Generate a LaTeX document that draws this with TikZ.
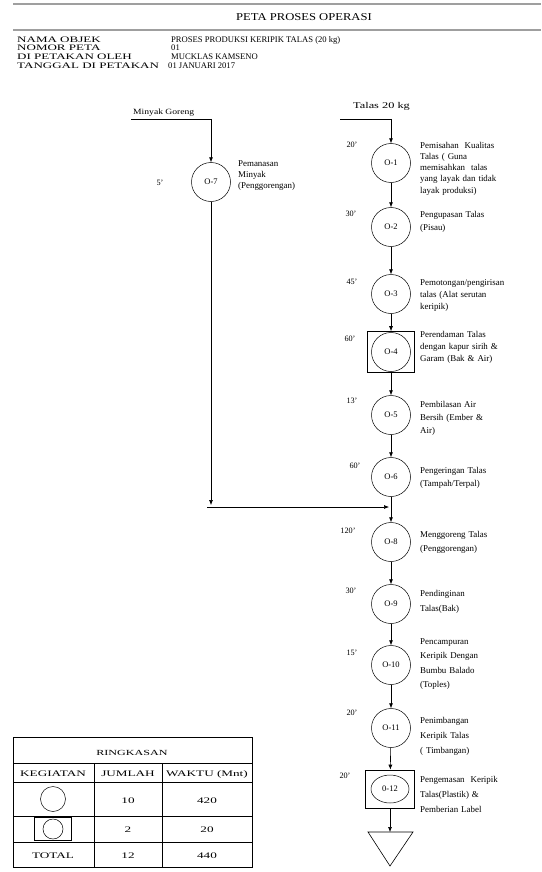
\documentclass[tikz,border=0pt]{standalone}
\usepackage{fontspec}
\setmainfont{Liberation Serif}
\newfontfamily\widefont[FakeStretch=1.55]{Liberation Serif}
\newfontfamily\talfont[FakeStretch=1.4]{Liberation Serif}
\newfontfamily\midfont[FakeStretch=1.2]{Liberation Serif}
\usetikzlibrary{arrows.meta,shapes.geometric}
\begin{document}
\begin{tikzpicture}[x=1pt,y=-1pt,
 opc/.style={circle,draw,minimum size=39pt,inner sep=0pt,line width=0.5pt,font=\fontsize{8.5}{9}\selectfont},
 inspbox/.style={rectangle,draw,minimum width=47pt,minimum height=41pt,inner sep=0pt,line width=0.6pt},
 lbl/.style={anchor=base west,text width=118pt,align=left,inner sep=0pt,font=\fontsize{8.9}{#1}\selectfont},
 lbl/.default=12,
 tm/.style={anchor=base,inner sep=0pt,font=\fontsize{8.2}{9}\selectfont},
 infok/.style={anchor=base west,inner sep=0pt,font=\widefont\fontsize{8.4}{9}\selectfont},
 infov/.style={anchor=base west,inner sep=0pt,font=\fontsize{8.6}{9}\selectfont},
 arr/.style={-{Latex[length=5pt,width=4pt]},line width=0.6pt},
 ln/.style={line width=0.6pt},
 tab/.style={anchor=base,inner sep=0pt,font=\widefont\fontsize{8.5}{10}\selectfont},
 hdr/.style={draw=gray!75,line width=1.6pt}
]
\useasboundingbox[fill=white] (0,0) rectangle (541,872);

% header
\draw[hdr] (13,4) -- (541,4);
\draw[hdr] (13,30) -- (541,30);
\node[anchor=base,inner sep=0pt,font=\midfont\fontsize{10.5}{12}\selectfont] (title) at (304,21) {PETA PROSES OPERASI};

\node[infok] (k1) at (17,43) {NAMA OBJEK};
\node[infov] (v1) at (171,43) {PROSES PRODUKSI KERIPIK TALAS (20 kg)};
\node[infok] (k2) at (17,51) {NOMOR PETA};
\node[infov] (v2) at (171,51) {01};
\node[infok] (k3) at (17,60) {DI PETAKAN OLEH};
\node[infov] (v3) at (171,60) {MUCKLAS KAMSENO};
\node[infok] (k4) at (17,69) {TANGGAL DI PETAKAN};
\node[infov] (v4) at (168,69) {01 JANUARI 2017};

% inputs
\node[anchor=base west,inner sep=0pt,font=\midfont\fontsize{8}{9}\selectfont] (minyak) at (133,115) {Minyak Goreng};
\node[anchor=base west,inner sep=0pt,font=\talfont\fontsize{8.8}{9}\selectfont] (talas) at (353,109) {Talas 20 kg};
\coordinate (m0) at (131,119);
\coordinate (m1) at (211,119);
\coordinate (t0) at (340,119);
\coordinate (t1) at (391,119);

% operations
\node[opc] (O7) at (211,182) {O-7};
\node[opc] (O1) at (391,163) {O-1};
\node[opc] (O2) at (391,227) {O-2};
\node[opc] (O3) at (391,294) {O-3};
\node[inspbox] (B4) at (391,352) {};
\node[opc] (O4) at (391,352) {O-4};
\node[opc] (O5) at (391,415) {O-5};
\node[opc] (O6) at (391,477) {O-6};
\node[opc] (O8) at (391,542) {O-8};
\node[opc] (O9) at (391,604) {O-9};
\node[opc] (O10) at (391,665) {O-10};
\node[opc] (O11) at (391,728) {O-11};
\node[inspbox,minimum width=49pt,minimum height=38pt] (B12) at (390,789) {};
\node[ellipse,draw,minimum width=38pt,minimum height=28pt,inner sep=0pt,line width=0.5pt,font=\fontsize{8.5}{9}\selectfont] (O12) at (390,789) {0-12};
\coordinate (T) at (390,832);
\draw[ln] (368,832) -- (413,832) -- (390,866) -- cycle;

% times
\node[tm] (t1l) at (352,147) {20'};
\node[tm] (t2l) at (351,216) {30'};
\node[tm] (t3l) at (352,284) {45'};
\node[tm] (t4l) at (350,341) {60'};
\node[tm] (t5l) at (352,403) {13'};
\node[tm] (t6l) at (355,468) {60'};
\node[tm] (t8l) at (348,533) {120'};
\node[tm] (t9l) at (351,593) {30'};
\node[tm] (t10l) at (352,655) {15'};
\node[tm] (t11l) at (352,715) {20'};
\node[tm] (t12l) at (345,778) {20'};
\node[tm] (t7l) at (160,185) {5'};

% labels
\node[lbl=11.3] (l7) at (238,166) {Pemanasan\\Minyak\\(Penggorengan)};
\node[lbl=11.3] (l1) at (420,148) {Pemisahan \ Kualitas\\Talas ( Guna\\memisahkan \ talas\\yang layak dan tidak\\layak produksi)};
\node[lbl=13] (l2) at (420,217) {Pengupasan Talas\\(Pisau)};
\node[lbl=12] (l3) at (420,285) {Pemotongan/pengirisan\\talas (Alat serutan\\keripik)};
\node[lbl=12] (l4) at (420,337) {Perendaman Talas\\dengan kapur sirih \&\\Garam (Bak \& Air)};
\node[lbl=13] (l5) at (420,407) {Pembilasan Air\\Bersih (Ember \&\\Air)};
\node[lbl=13] (l6) at (420,473) {Pengeringan Talas\\(Tampah/Terpal)};
\node[lbl=14] (l8) at (420,537) {Menggoreng Talas\\(Penggorengan)};
\node[lbl=15] (l9) at (420,596) {Pendinginan\\Talas(Bak)};
\node[lbl=14.5] (l10) at (420,644) {Pencampuran\\Keripik Dengan\\Bumbu Balado\\(Toples)};
\node[lbl=15] (l11) at (420,723) {Penimbangan\\Keripik Talas\\( Timbangan)};
\node[lbl=15] (l12) at (420,782) {Pengemasan \ Keripik\\Talas(Plastik) \&\\Pemberian Label};

% connectors
\draw[ln] (m0) -- (m1);
\draw[arr] (m1) -- (O7);
\draw[ln] (t0) -- (t1);
\draw[arr] (t1) -- (O1);
\draw[arr] (O1) -- (O2);
\draw[arr] (O2) -- (O3);
\draw[arr] (O3) -- (B4);
\draw[arr] (B4) -- (O5);
\draw[arr] (O5) -- (O6);
\draw[arr] (O6) -- (O8);
\draw[arr] (O8) -- (O9);
\draw[arr] (O9) -- (O10);
\draw[arr] (O10) -- (O11);
\draw[arr] (O11) -- (B12);
\draw[arr] (B12) -- (T);
\coordinate (c7) at (211,505);
\coordinate (c7w) at (207,507);
\coordinate (c8) at (390,507);
\draw[arr] (O7) -- (c7);
\draw[arr,shorten >=1pt] (c7w) -- (c8);

% summary table
\draw[ln] (13,737) rectangle (252,867);
\draw[ln] (13,763) -- (252,763);
\draw[ln] (13,782) -- (252,782);
\draw[ln] (13,816) -- (252,816);
\draw[ln] (13,842) -- (252,842);
\draw[ln] (94,763) -- (94,867);
\draw[ln] (162,763) -- (162,867);
\node[tab,font=\widefont\fontsize{7.8}{10}\selectfont] (r0) at (132,755) {RINGKASAN};
\node[tab] (h1) at (53,776) {KEGIATAN};
\node[tab] (h2) at (128,776) {JUMLAH};
\node[tab] (h3) at (207,776) {WAKTU (Mnt)};
\node[circle,draw,minimum size=25pt,inner sep=0pt,line width=0.5pt] (ic1) at (53,799) {};
\node[tab] (a2) at (128,803) {10};
\node[tab] (a3) at (207,803) {420};
\node[draw,minimum width=37pt,minimum height=23pt,inner sep=0pt,line width=0.5pt] (ic2) at (53,829) {};
\node[circle,draw,minimum size=20pt,inner sep=0pt,line width=0.5pt] (ic2c) at (53,829) {};
\node[tab] (b2) at (128,832) {2};
\node[tab] (b3) at (207,832) {20};
\node[tab] (c1) at (53,858) {TOTAL};
\node[tab] (c2) at (128,858) {12};
\node[tab] (c3) at (207,858) {440};
\end{tikzpicture}
\end{document}
